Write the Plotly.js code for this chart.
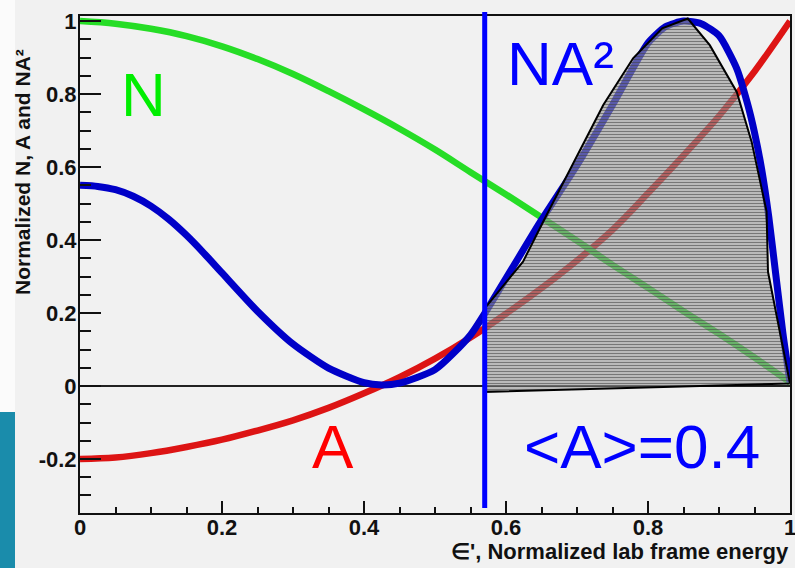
<!DOCTYPE html>
<html>
<head>
<meta charset="utf-8">
<script src="https://cdn.plot.ly/plotly-3.0.1.min.js"></script>
<style>
  html, body { margin: 0; padding: 0; background: #f1f1f1; }
  #chart { width: 795px; height: 568px; }
</style>
</head>
<body>
<div id="chart"></div>
<script>
// ---- data ----
const energy = [0,0.05,0.1,0.15,0.2,0.25,0.3,0.35,0.4,0.45,0.5,0.55,0.6,0.65,0.7,0.75,0.8,0.85,0.9,0.95,1.0];
const nValues = [1.0,0.993,0.979,0.959,0.931,0.896,0.855,0.808,0.758,0.705,0.648,0.586,0.525,0.462,0.398,0.332,0.269,0.205,0.143,0.078,0.01];
const aValues = [-0.2,-0.196,-0.184,-0.167,-0.147,-0.122,-0.094,-0.06,-0.02,0.024,0.075,0.133,0.198,0.268,0.344,0.428,0.528,0.632,0.74,0.862,1.0];

const naEnergy = [0,0.025,0.05,0.075,0.1,0.125,0.15,0.175,0.2,0.25,0.3,0.35,0.4,0.425,0.45,0.5,0.55,0.6,0.65,0.7,0.75,0.8,0.825,0.85,0.875,0.9,0.925,0.94,0.95,0.96,0.97,0.98,0.99,1.0];
const naValues = [0.55,0.547,0.538,0.52,0.493,0.457,0.413,0.363,0.31,0.205,0.115,0.049,0.009,0.003,0.008,0.045,0.14,0.295,0.455,0.605,0.77,0.94,0.985,1.0,0.993,0.96,0.87,0.775,0.695,0.595,0.465,0.305,0.145,0.01];

const shadedX = [0.570,0.570,1.0,0.969,0.967,0.946,0.925,0.887,0.856,0.820,0.779,0.737,0.657,0.624,0.570];
const shadedY = [0.213,-0.016,0.007,0.313,0.478,0.669,0.806,0.934,1.007,0.980,0.898,0.77,0.468,0.341,0.213];

const cutEnergy = 0.57;

const yTickVals = [-0.2,0,0.2,0.4,0.6,0.8,1];
const yTickText = ['-0.2','0','0.2','0.4','0.6','0.8','1'];
const xTickVals = [0,0.2,0.4,0.6,0.8,1];
const xTickText = ['0','0.2','0.4','0.6','0.8','1'];

const labelN = 'N';
const labelA = 'A';
const labelNA2 = 'NA²';
const labelMeanA = '&lt;A&gt;=0.4';
const xTitle = "∈', Normalized lab frame energy";
const yTitle = 'Normalized N, A and NA²';

// ---- chart ----
const FONT = 'Liberation Sans, Arial, sans-serif';

const traces = [
  { x: energy, y: aValues, mode: 'lines', line: { color: '#dd1414', width: 6.5, shape: 'spline', smoothing: 1 }, hoverinfo: 'skip' },
  { x: energy, y: nValues, mode: 'lines', line: { color: '#26dd26', width: 6.5, shape: 'spline', smoothing: 1 }, hoverinfo: 'skip' },
  { x: naEnergy, y: naValues, mode: 'lines', line: { color: '#0000c8', width: 7, shape: 'spline', smoothing: 0.6 }, hoverinfo: 'skip' },
  { x: shadedX, y: shadedY, mode: 'lines', fill: 'toself',
    fillcolor: 'rgba(150,150,150,0.6)',
    fillpattern: { shape: '-', size: 3, solidity: 0.35, fgcolor: '#404040', fgopacity: 0.55, bgcolor: 'rgba(150,150,150,0.6)' },
    line: { color: '#000000', width: 2 }, hoverinfo: 'skip' }
];

const px = (X) => (X - 80) / 710;      // pixel -> paper x
const py = (Y) => (513 - Y) / 497;     // pixel -> paper y

const layout = {
  width: 795, height: 568,
  margin: { l: 80, r: 5, t: 16, b: 55, pad: 0 },
  paper_bgcolor: '#f1f1f1',
  plot_bgcolor: '#f1f1f1',
  showlegend: false,
  font: { family: FONT, color: '#111' },
  xaxis: {
    range: [0, 1], tickvals: xTickVals, ticktext: xTickText,
    ticks: 'inside', ticklen: 12, tickwidth: 2, tickcolor: '#111',
    minor: { dtick: 0.05, tick0: 0, ticks: 'inside', ticklen: 6, tickwidth: 2, tickcolor: '#111' },
    showgrid: false, zeroline: false,
    showline: true, linecolor: '#111', linewidth: 2, mirror: true,
    tickfont: { family: FONT, size: 22, weight: 'bold', color: '#111' },
    ticklabelstandoff: -6, ticklabeloverflow: 'allow'
  },
  yaxis: {
    range: [-0.348, 1.014], tickvals: yTickVals, ticktext: yTickText,
    ticks: 'inside', ticklen: 21, tickwidth: 2, tickcolor: '#111',
    minor: { dtick: 0.05, tick0: 0, ticks: 'inside', ticklen: 11, tickwidth: 2, tickcolor: '#111' },
    showgrid: false, zeroline: true, zerolinecolor: '#222', zerolinewidth: 1.6,
    showline: true, linecolor: '#111', linewidth: 2, mirror: true,
    tickfont: { family: FONT, size: 22, weight: 'bold', color: '#111' },
    ticklabelstandoff: -3, ticklabeloverflow: 'allow'
  },
  shapes: [
    { type: 'rect', xref: 'paper', yref: 'paper', x0: px(0), x1: px(15), y0: py(0), y1: py(412), fillcolor: '#fbfbfb', line: { width: 0 }, layer: 'below' },
    { type: 'rect', xref: 'paper', yref: 'paper', x0: px(0), x1: px(15), y0: py(568), y1: py(412), fillcolor: '#1a8cab', line: { width: 0 }, layer: 'below' },
    { type: 'line', xref: 'x', yref: 'paper', x0: cutEnergy, x1: cutEnergy, y0: py(508), y1: py(12), line: { color: '#0000ff', width: 5 } }
  ],
  annotations: [
    { xref: 'x', yref: 'y', x: 0.089, y: 0.80, text: labelN, showarrow: false, font: { family: FONT, size: 62, color: '#00ee00' } },
    { xref: 'x', yref: 'y', x: 0.356, y: -0.165, text: labelA, showarrow: false, font: { family: FONT, size: 62, color: '#ff0000' } },
    { xref: 'x', yref: 'y', x: 0.677, y: 0.885, text: labelNA2, showarrow: false, font: { family: FONT, size: 62, color: '#0000ff' } },
    { xref: 'x', yref: 'y', x: 0.792, y: -0.165, text: labelMeanA, showarrow: false, font: { family: FONT, size: 62, color: '#0000ff' } },
    { xref: 'paper', yref: 'paper', x: px(23), y: py(172), xanchor: 'center', yanchor: 'middle', text: yTitle, textangle: -90, showarrow: false, font: { family: FONT, size: 21, weight: 'bold', color: '#111' } },
    { xref: 'paper', yref: 'paper', x: px(791), xanchor: 'right', y: py(551), yanchor: 'middle', text: xTitle, showarrow: false, font: { family: FONT, size: 22, weight: 'bold', color: '#111' } }
  ]
};

Plotly.newPlot('chart', traces, layout, { displayModeBar: false, staticPlot: true });
</script>
</body>
</html>
